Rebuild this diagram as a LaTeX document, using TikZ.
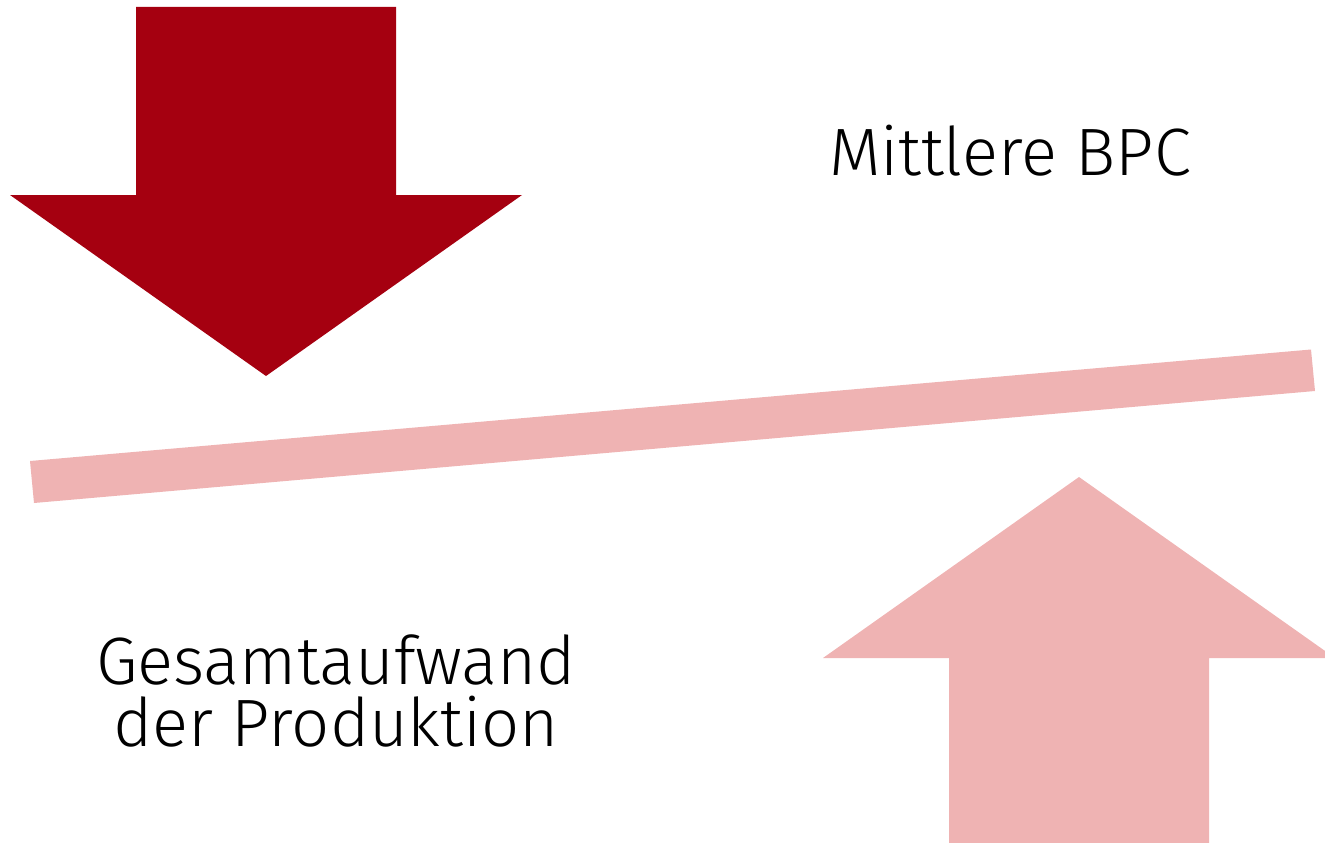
\documentclass[tikz,border=0pt]{standalone}
\usepackage{fontspec}
\setmainfont{Fira Sans}[UprightFont={* Light}]
\definecolor{darkred}{RGB}{165,0,16}
\definecolor{lightred}{RGB}{239,179,179}
\tikzset{label text/.style={anchor=base, inner sep=0pt, align=center, text=black, font=\fontsize{67}{62}\selectfont}}
\begin{document}
\begin{tikzpicture}[x=1pt,y=-1pt]
\useasboundingbox (0,0) rectangle (1325,843);
\clip (0,0) rectangle (1325,843);
\fill[darkred] (136,7) -- (396,7) -- (396,195) -- (522,195) -- (266,376) -- (10,195) -- (136,195) -- cycle;
\fill[lightred] (1079,477) -- (1335,658) -- (1209,658) -- (1209,850) -- (949,850) -- (949,658) -- (823,658) -- cycle;
\fill[lightred] (30,461) -- (1311,349.5) -- (1315,391) -- (34,503) -- cycle;
\node[label text] (bpc) at (1010,175) {Mittlere BPC};
\node[label text] (ges) at (336,746) {Gesamtaufwand\\der Produktion};
\end{tikzpicture}
\end{document}
